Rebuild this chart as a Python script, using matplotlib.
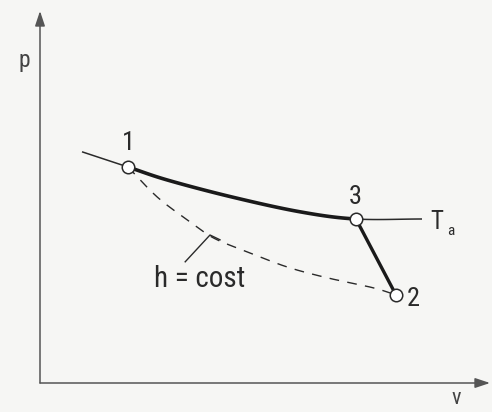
import numpy as np
import matplotlib
matplotlib.use("Agg")
import matplotlib.pyplot as plt
from matplotlib import font_manager

# --- state points of the process (arbitrary units) ---
state_labels = ["1", "3", "2"]
state_v = [2.2, 7.9, 8.9]
state_p = [5.4, 4.1, 2.2]

# ambient isotherm T_a through states 1 and 3
isotherm_v = [1.05, 2.2, 3.2, 4.8, 6.5, 7.9, 9.55]
isotherm_p = [5.78, 5.4, 5.07, 4.65, 4.28, 4.1, 4.1]

# isenthalpic throttling path 1 -> 2
isenthalp_v = [2.2, 2.93, 3.68, 4.33, 5.18, 6.18, 7.18, 8.33, 8.9]
isenthalp_p = [5.4, 4.65, 4.08, 3.63, 3.28, 2.9, 2.63, 2.38, 2.2]

axis_labels = ["v", "p"]
isotherm_label = "T"
isotherm_sub = "a"
isenthalp_label = "h = cost"


def smooth(xs, ys, n=30):
    """Catmull-Rom spline through the given points."""
    pts = np.column_stack([xs, ys]).astype(float)
    ext = np.vstack([2 * pts[0] - pts[1], pts, 2 * pts[-1] - pts[-2]])
    out = []
    t = np.linspace(0, 1, n, endpoint=False)[:, None]
    for i in range(1, len(ext) - 2):
        p0, p1, p2, p3 = ext[i - 1], ext[i], ext[i + 1], ext[i + 2]
        seg = 0.5 * ((2 * p1) + (-p0 + p2) * t
                     + (2 * p0 - 5 * p1 + 4 * p2 - p3) * t ** 2
                     + (-p0 + 3 * p1 - 3 * p2 + p3) * t ** 3)
        out.append(seg)
    out.append(pts[-1][None, :])
    res = np.vstack(out)
    return res[:, 0], res[:, 1]


fam = "DejaVu Sans"
for cand in ["Liberation Sans Narrow", "Roboto Condensed", "DejaVu Sans"]:
    try:
        font_manager.findfont(cand, fallback_to_default=False)
        fam = cand
        break
    except Exception:
        continue

ink = "#2a2a2a"
bg = "#f6f6f4"

fig = plt.figure(figsize=(4.92, 4.12), dpi=100, facecolor=bg)
ax = fig.add_axes([0, 0, 1, 1], facecolor=bg)
ax.set_xlim(-1.0, 11.3)
ax.set_ylim(-0.725, 9.575)
ax.axis("off")

# coordinate axes with arrow heads
arrow = dict(arrowstyle="-|>,head_length=0.9,head_width=0.3", color="#555555",
             lw=1.1, shrinkA=0, shrinkB=0)
ax.annotate("", xy=(11.25, 0), xytext=(0, 0), arrowprops=arrow)
ax.annotate("", xy=(0, 9.3), xytext=(0, 0), arrowprops=arrow)
ax.text(10.4, -0.38, axis_labels[0], fontsize=16, family=fam, color="#444444",
        ha="center", va="center")
ax.text(-0.38, 8.05, axis_labels[1], fontsize=17, family=fam, color="#444444",
        ha="center", va="center")

# isotherm: thin outside 1-3, heavy between states 1 and 3
iv, ip = smooth(isotherm_v, isotherm_p)
i1 = np.argmin(np.abs(iv - state_v[0]))
i3 = np.argmin(np.abs(iv - state_v[1]))
ax.plot(iv[:i1 + 1], ip[:i1 + 1], color=ink, lw=1.1, solid_capstyle="butt")
ax.plot(iv[i3:], ip[i3:], color=ink, lw=1.1, solid_capstyle="butt")
ax.plot(iv[i1:i3 + 1], ip[i1:i3 + 1], color="#1a1a1a", lw=2.6,
        solid_capstyle="round")

# isothermal -> 3 -> 2 expansion segment
ax.plot(state_v[1:], state_p[1:], color="#1a1a1a", lw=2.4, solid_capstyle="round")

# isenthalpic path 1 -> 2
hv, hp = smooth(isenthalp_v, isenthalp_p)
ax.plot(hv, hp, color=ink, lw=1.0, dashes=(7, 6))

# state markers and numbers
ax.plot(state_v, state_p, "o", ms=9, mfc="white", mec=ink, mew=1.1, zorder=5)
ax.text(state_v[0], state_p[0] + 0.6, state_labels[0], fontsize=19, family=fam,
        color=ink, ha="center", va="center")
ax.text(state_v[1] - 0.03, state_p[1] + 0.55, state_labels[1], fontsize=19,
        family=fam, color=ink, ha="center", va="center")
ax.text(state_v[2] + 0.42, state_p[2] - 0.1, state_labels[2], fontsize=19,
        family=fam, color=ink, ha="center", va="center")

# isotherm label
ax.text(isotherm_v[-1] + 0.22, isotherm_p[-1] - 0.08, isotherm_label, fontsize=18,
        family=fam, color=ink, ha="left", va="center")
ax.text(isotherm_v[-1] + 0.62, isotherm_p[-1] - 0.3, isotherm_sub, fontsize=11,
        family=fam, color=ink, ha="left", va="center")

# label for the isenthalp with leader line
ax.text(4.0, 2.6, isenthalp_label, fontsize=21, family=fam, color=ink,
        ha="center", va="center")
ax.plot([3.63, 4.25, 4.5], [3.03, 3.7, 3.58], color=ink, lw=1.0)

fig.savefig("out.png", dpi=100, facecolor=bg)
